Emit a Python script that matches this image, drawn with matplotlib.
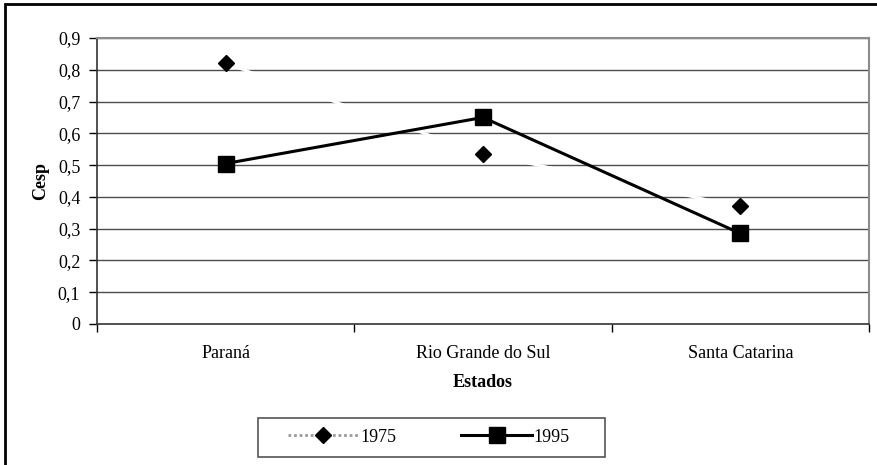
import matplotlib
matplotlib.use("Agg")
import matplotlib.pyplot as plt
from matplotlib.lines import Line2D
from matplotlib.patches import Rectangle

categories = ["Paraná", "Rio Grande do Sul", "Santa Catarina"]
series_1975 = [0.82, 0.535, 0.37]
series_1995 = [0.505, 0.65, 0.285]
yticks = [0, 0.1, 0.2, 0.3, 0.4, 0.5, 0.6, 0.7, 0.8, 0.9]
ytick_labels = ["0", "0,1", "0,2", "0,3", "0,4", "0,5", "0,6", "0,7", "0,8", "0,9"]

plt.rcParams['font.family'] = ['Liberation Serif', 'DejaVu Serif']

FS = 13
W, H = 877, 465
fig = plt.figure(figsize=(W/100, H/100), dpi=100)
ax = fig.add_axes([97/W, 1-324/H, (869-97)/W, (324-38)/H])

x = list(range(len(categories)))
ax.set_xlim(-0.5, len(categories)-0.5)
ax.set_ylim(0, 0.9)

for yv in yticks[1:]:
    ax.axhline(yv, color='#4d4d4d', lw=1.0, zorder=1)

ax.plot(x, series_1975, color='white', lw=2.0, zorder=2)
ax.plot(x, series_1975, linestyle='none', marker='D', ms=8, color='black', zorder=4)
ax.plot(x, series_1995, color='black', lw=2.2, marker='s', ms=11, zorder=3)

ax.set_yticks(yticks)
ax.set_yticklabels(ytick_labels, fontsize=FS)
ax.set_xticks([-0.5, 0.5, 1.5, 2.5])
ax.set_xticklabels([])
ax.set_xticks(x, minor=True)
ax.set_xticklabels(categories, minor=True, fontsize=FS)
ax.tick_params(axis='x', which='minor', length=0, pad=15)
ax.tick_params(axis='x', which='major', length=6, direction='out', width=1)
ax.tick_params(axis='y', length=6, direction='out', width=1, pad=6)

for s in ['top', 'right']:
    ax.spines[s].set_color('#8c8c8c')
    ax.spines[s].set_linewidth(1.5)
for s in ['left', 'bottom']:
    ax.spines[s].set_color('#333333')
    ax.spines[s].set_linewidth(1.2)

ax.set_ylabel("Cesp", fontweight='bold', fontsize=FS, labelpad=6)
ax.set_xlabel("Estados", fontweight='bold', fontsize=FS, labelpad=9)

handles = [
    Line2D([0], [0], color='#9a9a9a', lw=2, linestyle=(0, (1, 1)), marker='D', ms=8,
           markerfacecolor='black', markeredgecolor='black'),
    Line2D([0], [0], color='black', lw=2.2, marker='s', ms=11),
]
leg = fig.legend(handles, ["1975", "1995"], loc='center', ncol=2,
                 bbox_to_anchor=(429/W, 1-437/H), frameon=False,
                 fontsize=FS, handlelength=3.9, columnspacing=3.6,
                 borderpad=0.0, handletextpad=0.1, borderaxespad=0)

fig.patches.append(Rectangle((258/W, 1-457/H), (605-258)/W, (457-418)/H,
                             transform=fig.transFigure, fill=False,
                             edgecolor='#555555', lw=1.2))

fig.patches.append(Rectangle((5/W, -0.1), 1.2, 1 - 4.5/H + 0.1, transform=fig.transFigure,
                             fill=False, edgecolor='black', lw=2))

fig.savefig("out.png", dpi=100)
